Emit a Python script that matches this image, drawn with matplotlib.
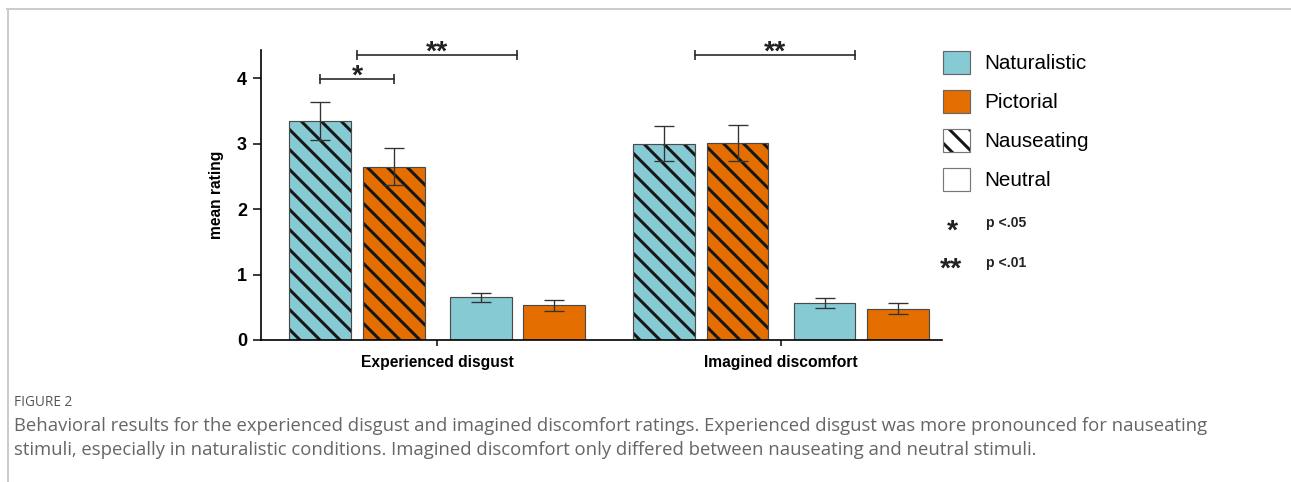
import matplotlib
matplotlib.use('Agg')
import matplotlib.pyplot as plt
from matplotlib.patches import Patch
from matplotlib.lines import Line2D
import numpy as np

# data
groups = ['Experienced disgust', 'Imagined discomfort']
conditions = ['Naturalistic nauseating', 'Pictorial nauseating',
              'Naturalistic neutral', 'Pictorial neutral']
means = [[3.35, 2.65, 0.65, 0.53],
         [3.00, 3.01, 0.56, 0.48]]
errs = [[0.29, 0.28, 0.075, 0.085],
        [0.27, 0.27, 0.075, 0.08]]
# significance brackets: group, x start, x end (relative to group), height, label
sig_group = [0, 0, 1]
sig_x1 = [-0.34, -0.233, -0.25]
sig_x2 = [-0.125, 0.233, 0.215]
sig_y = [3.98, 4.35, 4.35]
sig_label = ['*', '**', '**']

teal = '#86CAD3'
orange = '#E56E00'
colors = [teal, orange, teal, orange]
hatches = ['\\\\', '\\\\', '', '']
offsets = [-0.34, -0.1265, 0.1265, 0.34]
width = 0.18

plt.rcParams['font.family'] = ['Liberation Sans', 'DejaVu Sans']
plt.rcParams['hatch.linewidth'] = 1.8

fig = plt.figure(figsize=(1291 / 120, 482 / 120), dpi=120)
ax = fig.add_axes([261 / 1291, 1 - 340 / 482, (942 - 261) / 1291, 290 / 482])

x = np.arange(len(groups))
for i in range(len(conditions)):
    vals = [m[i] for m in means]
    ee = [e[i] for e in errs]
    # fill + hatch (hatch takes the edge colour), then a thin grey outline
    ax.bar(x + offsets[i], vals, width, color=colors[i], hatch=hatches[i],
           edgecolor='#161616', linewidth=0, zorder=2)
    ax.bar(x + offsets[i], vals, width, fill=False,
           edgecolor='#4a4a4a', linewidth=0.7, zorder=2)
    ax.errorbar(x + offsets[i], vals, yerr=ee, fmt='none', ecolor='#333333',
                elinewidth=0.8, capsize=6, capthick=0.8, zorder=3)

for g, a, b, h, lab in zip(sig_group, sig_x1, sig_x2, sig_y, sig_label):
    ax.plot([g + a, g + b], [h, h], color='#2a2a2a', lw=1.0,
            marker='|', markersize=5.5, markeredgewidth=1.0, clip_on=False)
    ax.text(g + (a + b) / 2, h - 0.06, lab, ha='center', va='baseline',
            fontsize=17, fontweight='bold', color='#222222')

ax.set_xlim(-0.512, 1.468)
ax.set_ylim(0, 4.43)
ax.set_xticks(x)
ax.set_xticklabels(groups, fontsize=9.4, fontweight='bold')
ax.set_yticks([0, 1, 2, 3, 4])
ax.set_yticklabels(['0', '1', '2', '3', '4'], fontsize=10.8, fontweight='bold')
ax.tick_params(axis='y', length=4.8, width=0.9, pad=3.6)
ax.tick_params(axis='x', length=3.6, width=0.9, pad=5.5)
ax.set_ylabel('mean rating', fontsize=9.4, fontweight='bold')
ax.yaxis.label.set_verticalalignment('center')
ax.yaxis.set_label_coords((216 - 261) / 681, 0.5)
for s in ['top', 'right']:
    ax.spines[s].set_visible(False)
for s in ['left', 'bottom']:
    ax.spines[s].set_linewidth(1.0)

# legend
handles = [Patch(facecolor=teal, edgecolor='#666666', linewidth=0.7),
           Patch(facecolor=orange, edgecolor='#666666', linewidth=0.7),
           (Patch(facecolor='white', edgecolor='#161616', linewidth=0, hatch='\\\\'),
            Patch(fill=False, edgecolor='#777777', linewidth=0.7)),
           Patch(facecolor='white', edgecolor='#777777', linewidth=0.7)]
fig.legend(handles, ['Naturalistic', 'Pictorial', 'Nauseating', 'Neutral'],
           loc='upper left', bbox_to_anchor=(943 / 1291, 1 - 51 / 482),
           frameon=False, fontsize=12.4, handlelength=1.3, handleheight=1.3,
           handletextpad=0.7, labelspacing=0.8, borderpad=0, borderaxespad=0)
fig.text(952 / 1291, 1 - 239 / 482, '*', ha='center', va='baseline',
         fontsize=17, fontweight='bold', color='#222222')
fig.text(986 / 1291, 1 - 223 / 482, 'p <.05', ha='left', va='center',
         fontsize=8.4, fontweight='bold', color='#222222')
fig.text(951 / 1291, 1 - 277 / 482, '**', ha='center', va='baseline',
         fontsize=17, fontweight='bold', color='#222222')
fig.text(986 / 1291, 1 - 263 / 482, 'p <.01', ha='left', va='center',
         fontsize=8.4, fontweight='bold', color='#222222')

# caption
fig.text(14 / 1291, 1 - 403 / 482, 'FIGURE 2', ha='left', va='center',
         fontsize=8.2, color='#555555', family='Open Sans')
fig.text(14 / 1291, 1 - 426 / 482,
         'Behavioral results for the experienced disgust and imagined discomfort ratings. '
         'Experienced disgust was more pronounced for nauseating',
         ha='left', va='center', fontsize=11.1, color='#666666', family='Open Sans')
fig.text(14 / 1291, 1 - 450 / 482,
         'stimuli, especially in naturalistic conditions. Imagined discomfort only differed '
         'between nauseating and neutral stimuli.',
         ha='left', va='center', fontsize=11.1, color='#666666', family='Open Sans')

# page border
fig.add_artist(Line2D([7 / 1291, 1], [1 - 8.5 / 482, 1 - 8.5 / 482],
                      color='#cccccc', lw=1.2, transform=fig.transFigure))
fig.add_artist(Line2D([7.5 / 1291, 7.5 / 1291], [0, 1 - 8.5 / 482],
                      color='#cccccc', lw=1.2, transform=fig.transFigure))

fig.savefig('out.png', dpi=120)
